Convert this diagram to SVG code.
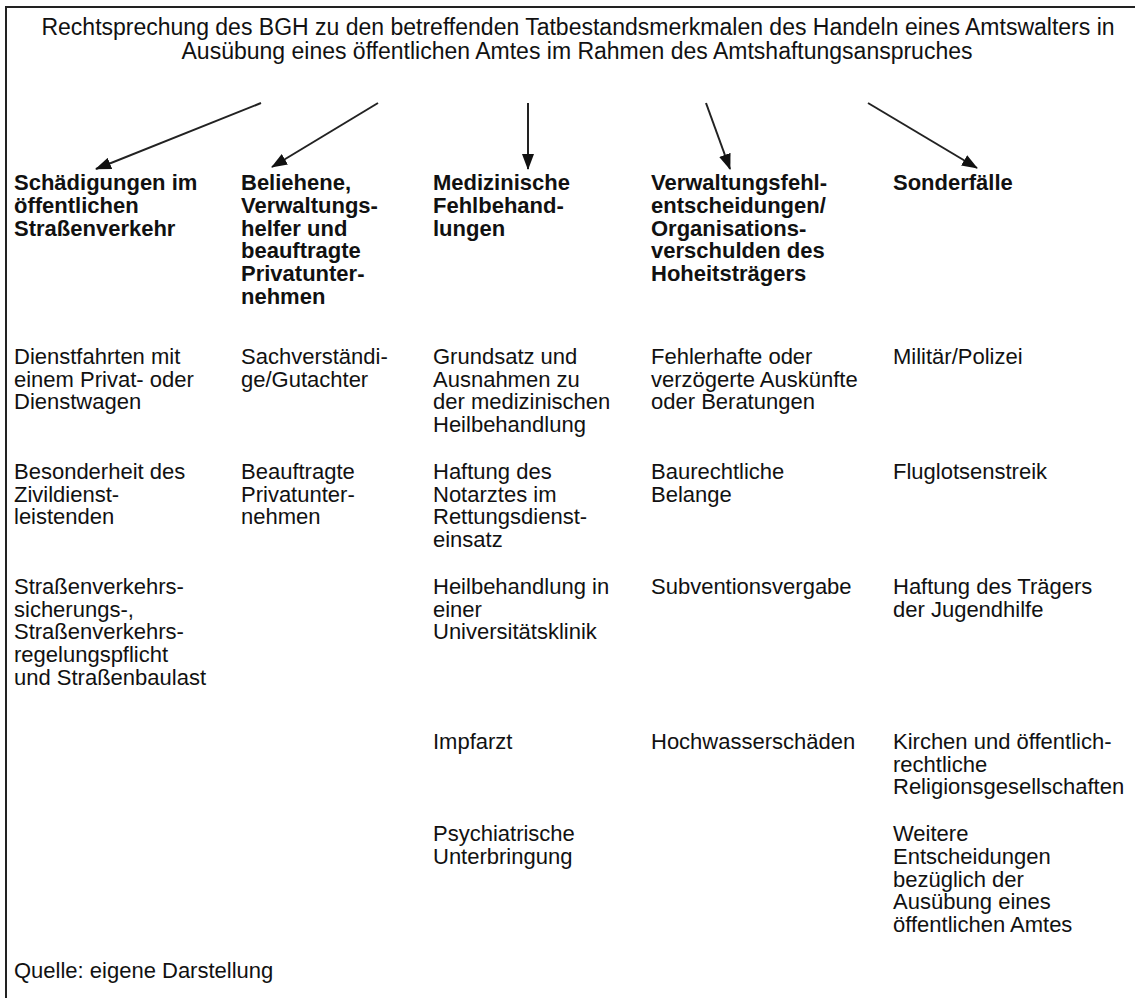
<svg xmlns="http://www.w3.org/2000/svg" width="1135" height="998" viewBox="0 0 1135 998">
<defs>
<style>
text{font-family:"Liberation Sans",Arial,sans-serif;fill:#111;}
.t{font-size:23px;}
.h{font-size:22px;font-weight:bold;}
.b{font-size:22px;}
.frame{stroke:#222;stroke-width:2;fill:none;}
.arr{stroke:#222;stroke-width:2;fill:none;marker-end:url(#ah);}
</style>
<marker id="ah" viewBox="0 0 16 12" refX="15" refY="6" markerWidth="16" markerHeight="12" markerUnits="userSpaceOnUse" orient="auto">
<path d="M0,0 L16,6 L0,12 Z" fill="#111"/>
</marker>
</defs>
<rect width="1135" height="998" fill="#fff"/>
<path class="frame" d="M6,998 V7 H1135"/>
<g id="title">
<text class="t" x="578" y="35" text-anchor="middle">Rechtsprechung des BGH zu den betreffenden Tatbestandsmerkmalen des Handeln eines Amtswalters in</text>
<text class="t" x="577" y="59" text-anchor="middle">Ausübung eines öffentlichen Amtes im Rahmen des Amtshaftungsanspruches</text>
</g>
<g id="connectors">
<line class="arr" x1="261" y1="103" x2="96" y2="169"/>
<line class="arr" x1="378" y1="103" x2="272" y2="167"/>
<line class="arr" x1="528" y1="103" x2="528" y2="169"/>
<line class="arr" x1="706" y1="103" x2="730" y2="169"/>
<line class="arr" x1="868" y1="103" x2="977" y2="168"/>
</g>
<g id="h1"><text class="h" x="14" y="190">Schädigungen im</text><text class="h" x="14" y="213">öffentlichen</text><text class="h" x="14" y="236">Straßenverkehr</text></g>
<g id="h2"><text class="h" x="241" y="190">Beliehene,</text><text class="h" x="241" y="213">Verwaltungs-</text><text class="h" x="241" y="236">helfer und</text><text class="h" x="241" y="258">beauftragte</text><text class="h" x="241" y="281">Privatunter-</text><text class="h" x="241" y="304">nehmen</text></g>
<g id="h3"><text class="h" x="433" y="190">Medizinische</text><text class="h" x="433" y="213">Fehlbehand-</text><text class="h" x="433" y="236">lungen</text></g>
<g id="h4"><text class="h" x="651" y="190">Verwaltungsfehl-</text><text class="h" x="651" y="213">entscheidungen/</text><text class="h" x="651" y="236">Organisations-</text><text class="h" x="651" y="258">verschulden des</text><text class="h" x="651" y="281">Hoheitsträgers</text></g>
<g id="h5"><text class="h" x="893" y="190">Sonderfälle</text></g>

<g id="c1r1"><text class="b" x="14" y="364">Dienstfahrten mit</text><text class="b" x="14" y="387">einem Privat- oder</text><text class="b" x="14" y="409">Dienstwagen</text></g>
<g id="c1r2"><text class="b" x="14" y="479">Besonderheit des</text><text class="b" x="14" y="502">Zivildienst-</text><text class="b" x="14" y="524">leistenden</text></g>
<g id="c1r3"><text class="b" x="14" y="594">Straßenverkehrs-</text><text class="b" x="14" y="617">sicherungs-,</text><text class="b" x="14" y="639">Straßenverkehrs-</text><text class="b" x="14" y="662">regelungspflicht</text><text class="b" x="14" y="685">und Straßenbaulast</text></g>

<g id="c2r1"><text class="b" x="241" y="364">Sachverständi-</text><text class="b" x="241" y="387">ge/Gutachter</text></g>
<g id="c2r2"><text class="b" x="241" y="479">Beauftragte</text><text class="b" x="241" y="502">Privatunter-</text><text class="b" x="241" y="524">nehmen</text></g>

<g id="c3r1"><text class="b" x="433" y="364">Grundsatz und</text><text class="b" x="433" y="387">Ausnahmen zu</text><text class="b" x="433" y="409">der medizinischen</text><text class="b" x="433" y="432">Heilbehandlung</text></g>
<g id="c3r2"><text class="b" x="433" y="479">Haftung des</text><text class="b" x="433" y="502">Notarztes im</text><text class="b" x="433" y="524">Rettungsdienst-</text><text class="b" x="433" y="547">einsatz</text></g>
<g id="c3r3"><text class="b" x="433" y="594">Heilbehandlung in</text><text class="b" x="433" y="617">einer</text><text class="b" x="433" y="639">Universitätsklinik</text></g>
<g id="c3r4"><text class="b" x="433" y="749">Impfarzt</text></g>
<g id="c3r5"><text class="b" x="433" y="841">Psychiatrische</text><text class="b" x="433" y="864">Unterbringung</text></g>

<g id="c4r1"><text class="b" x="651" y="364">Fehlerhafte oder</text><text class="b" x="651" y="387">verzögerte Auskünfte</text><text class="b" x="651" y="409">oder Beratungen</text></g>
<g id="c4r2"><text class="b" x="651" y="479">Baurechtliche</text><text class="b" x="651" y="502">Belange</text></g>
<g id="c4r3"><text class="b" x="651" y="594">Subventionsvergabe</text></g>
<g id="c4r4"><text class="b" x="651" y="749">Hochwasserschäden</text></g>

<g id="c5r1"><text class="b" x="893" y="364">Militär/Polizei</text></g>
<g id="c5r2"><text class="b" x="893" y="479">Fluglotsenstreik</text></g>
<g id="c5r3"><text class="b" x="893" y="594">Haftung des Trägers</text><text class="b" x="893" y="617">der Jugendhilfe</text></g>
<g id="c5r4"><text class="b" x="893" y="749">Kirchen und öffentlich-</text><text class="b" x="893" y="772">rechtliche</text><text class="b" x="893" y="794">Religionsgesellschaften</text></g>
<g id="c5r5"><text class="b" x="893" y="841">Weitere</text><text class="b" x="893" y="864">Entscheidungen</text><text class="b" x="893" y="887">bezüglich der</text><text class="b" x="893" y="909">Ausübung eines</text><text class="b" x="893" y="932">öffentlichen Amtes</text></g>

<g id="source"><text class="b" x="14" y="978">Quelle: eigene Darstellung</text></g>
</svg>
